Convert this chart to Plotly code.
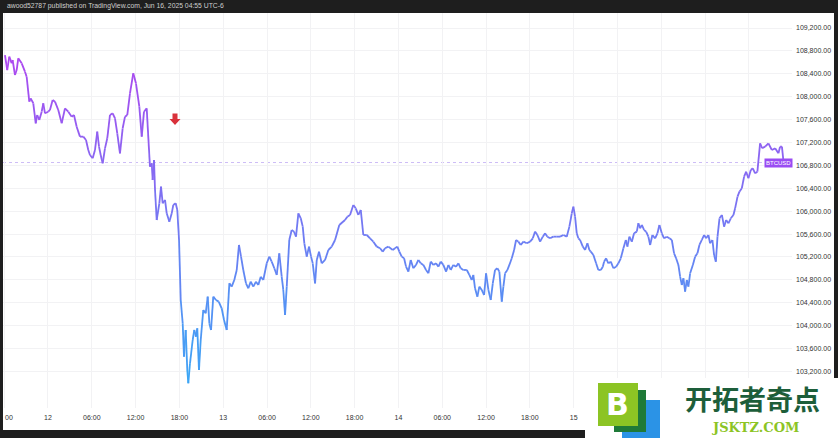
import pandas as pd
import plotly.graph_objects as go

# ---------------- data ----------------
# hours since 2025-06-12 00:00 (UTC-6) and BTCUSD price
hours = [-5.89, -5.58, -5.30, -4.97, -4.84, -4.52, -4.29, -4.07, -3.60, -3.15, -2.92, -2.56, -2.37, -2.01,
         -1.68, -1.47, -1.19, -0.86, -0.64, -0.41, 0.04, 0.27, 0.64, 0.96, 1.41, 1.88, 2.33, 2.78, 3.25,
         3.56, 3.93, 4.38, 4.84, 5.21, 5.52, 5.75, 6.12, 6.44, 6.75, 6.99, 7.22, 7.49, 7.81, 8.12, 8.49,
         8.86, 9.18, 9.49, 9.86, 10.23, 10.55, 10.86, 11.23, 11.68, 12.05, 12.51, 12.84, 13.15, 13.52,
         13.84, 13.97, 14.21, 14.34, 14.52, 14.66, 14.89, 15.25, 15.48, 15.71, 16.03, 16.26, 16.62, 16.95,
         17.16, 17.49, 17.71, 17.95, 18.18, 18.45, 18.63, 18.86, 19.08, 19.22, 19.45, 19.82, 20.04, 20.27,
         20.45, 20.68, 20.92, 21.27, 21.60, 21.88, 22.10, 22.33, 22.64, 23.01, 23.38, 23.79, 24.11, 24.48,
         24.84, 25.16, 25.52, 25.85, 26.16, 26.44, 26.75, 27.12, 27.44, 27.77, 28.12, 28.49, 28.81, 29.14,
         29.49, 29.96, 30.32, 30.64, 31.00, 31.33, 31.68, 32.01, 32.23, 32.47, 32.70, 33.05, 33.38, 33.70,
         33.97, 34.29, 34.62, 34.89, 35.11, 35.44, 35.75, 36.03, 36.26, 36.58, 36.81, 37.12, 37.49, 37.95,
         38.40, 38.86, 39.32, 39.90, 40.68, 41.00, 41.37, 41.82, 42.15, 42.51, 42.84, 43.19, 43.66, 44.11,
         44.56, 45.03, 45.48, 45.85, 46.16, 46.62, 47.22, 47.53, 47.85, 48.12, 48.45, 48.77, 49.04, 49.36,
         49.68, 50.04, 50.41, 50.73, 51.05, 51.41, 51.78, 52.10, 52.42, 52.78, 53.15, 53.47, 53.79, 54.15,
         54.52, 54.84, 55.16, 55.52, 55.89, 56.21, 56.53, 56.89, 57.36, 57.71, 58.04, 58.26, 58.49, 58.81,
         59.08, 59.41, 59.73, 60.00, 60.32, 60.64, 60.92, 61.23, 61.55, 61.82, 62.15, 62.37, 62.60, 62.92,
         63.19, 63.52, 63.84, 64.11, 64.42, 64.75, 65.11, 65.58, 66.03, 66.40, 66.71, 67.03, 67.40, 67.77,
         68.08, 68.40, 68.77, 69.21, 69.68, 70.14, 70.59, 71.05, 71.41, 71.74, 71.96, 72.19, 72.42, 72.64,
         72.88, 73.25, 73.56, 73.88, 74.15, 74.34, 74.70, 75.07, 75.38, 75.71, 75.99, 76.16, 76.44, 76.75,
         77.08, 77.44, 77.81, 78.12, 78.45, 78.81, 79.14, 79.36, 79.63, 79.96, 80.27, 80.64, 80.86, 81.10,
         81.33, 81.64, 81.92, 82.23, 82.47, 82.78, 83.15, 83.47, 83.74, 84.07, 84.38, 84.75, 85.11, 85.44,
         85.75, 86.03, 86.34, 86.58, 86.81, 87.03, 87.26, 87.49, 87.71, 87.95, 88.32, 88.63, 88.95, 89.22,
         89.55, 89.86, 90.14, 90.45, 90.68, 91.00, 91.23, 91.47, 91.70, 91.97, 92.30, 92.60, 92.88, 93.19,
         93.52, 93.88, 94.11, 94.44, 94.70, 95.03, 95.34, 95.62, 95.93, 96.26, 96.53, 96.85, 97.16, 97.53,
         97.81, 98.22, 98.67, 99.14, 99.59, 100.04, 100.27, 100.52, 100.75]

prices = [108728, 108466, 108700, 108583, 108640, 108379, 108466, 108670, 108583, 108437, 108349, 107913,
          107972, 107885, 107535, 107680, 107593, 107738, 107885, 107710, 107738, 107768, 107942, 107913,
          107768, 107535, 107797, 107738, 107651, 107680, 107476, 107302, 107302, 107244, 107069, 106982,
          106924, 107069, 107389, 107127, 106982, 106837, 107098, 107273, 107680, 107710, 107623, 107361,
          107011, 107448, 107651, 107680, 108059, 108409, 108234, 107826, 107302, 107738, 107797, 107069,
          106777, 106837, 106545, 106894, 106370, 105846, 106138, 106428, 106138, 106196, 105963, 105817,
          105963, 106108, 106138, 106021, 105497, 104449, 104042, 103459, 103925, 103226, 102994, 103343,
          103750, 103925, 103808, 103954, 103226, 103750, 104274, 104216, 104507, 104042, 103925, 104507,
          104449, 104420, 104304, 104100, 103925, 104740, 104682, 104798, 104973, 105410, 105206, 104973,
          104740, 104653, 104769, 104682, 104769, 104711, 104856, 104798, 105090, 105206, 105118, 105003,
          104886, 105264, 104856, 104624, 104187, 104682, 105497, 105672, 105643, 105555, 105963, 105876,
          105730, 105439, 105206, 105381, 105206, 105090, 104740, 105148, 105293, 105090, 105148, 105322,
          105381, 105497, 105759, 105846, 105904, 105934, 106108, 106050, 105934, 106021, 105584, 105584,
          105526, 105468, 105381, 105352, 105293, 105352, 105381, 105322, 105352, 105381, 105293, 105206,
          105177, 105031, 104944, 105148, 105003, 105061, 105148, 105090, 105061, 104973, 104915, 105118,
          105061, 105090, 105031, 105118, 105061, 104944, 105061, 104973, 105061, 105031, 105090, 105003,
          104973, 104973, 104886, 104798, 104886, 104653, 104507, 104682, 104624, 104536, 104915, 104624,
          104449, 104740, 104973, 105003, 104944, 104420, 104682, 104915, 104973, 105061, 105177, 105322,
          105497, 105468, 105410, 105468, 105439, 105468, 105526, 105643, 105584, 105468, 105555, 105613,
          105555, 105526, 105555, 105555, 105555, 105584, 105555, 105730, 105963, 106079, 105904, 105613,
          105526, 105497, 105381, 105322, 105439, 105322, 105293, 105235, 105090, 104973, 104973, 105031,
          105118, 105177, 105090, 105118, 105003, 105031, 105090, 105177, 105352, 105497, 105381, 105555,
          105468, 105613, 105643, 105789, 105701, 105759, 105672, 105643, 105555, 105410, 105584, 105526,
          105613, 105759, 105613, 105526, 105555, 105526, 105497, 105264, 105177, 105061, 104856, 104711,
          104828, 104594, 104798, 104682, 104915, 105061, 105206, 105264, 105410, 105497, 105584, 105526,
          105584, 105439, 105497, 105235, 105118, 105555, 105876, 105934, 105730, 105846, 105789, 105876,
          105934, 106050, 106254, 106341, 106400, 106603, 106690, 106574, 106720, 106749, 106662, 106690,
          107186, 107100, 107127, 107186, 107069, 107098, 107011, 107127, 107127, 106850]

tick_hours = [-6, 0, 6, 12, 18, 24, 30, 36, 42, 48, 54, 60, 66, 72, 78, 84, 90, 96]
# labels past "15" are hidden behind the watermark in the reference
tick_labels = ["18:00", "12", "06:00", "12:00", "18:00", "13", "06:00", "12:00", "18:00",
               "14", "06:00", "12:00", "18:00", "15", "", "", "", ""]
price_ticks = [103200, 103600, 104000, 104400, 104800, 105200, 105600, 106000, 106400,
               106800, 107200, 107600, 108000, 108400, 108800, 109200]
last_price = 106850
symbol = "BTCUSD"
header = "awood52787 published on TradingView.com, Jun 16, 2025 04:55 UTC-6"

# ---------------- build ----------------
base = pd.Timestamp("2025-06-12 00:00")
times = [base + pd.Timedelta(hours=h) for h in hours]
tick_vals = [base + pd.Timedelta(hours=h) for h in tick_hours]

LOW_C = (58, 168, 245)
HIGH_C = (176, 70, 240)
P_LO, P_HI = 103000, 108800
NB = 48


def bin_of(p):
    t = (p - P_LO) / (P_HI - P_LO)
    t = min(max(t, 0.0), 1.0)
    return min(int(t * NB), NB - 1)


def bin_color(b):
    t = (b + 0.5) / NB
    r, g, bl = (round(LOW_C[i] + (HIGH_C[i] - LOW_C[i]) * t) for i in range(3))
    return f"rgb({r},{g},{bl})"


groups = {}
for i in range(len(prices) - 1):
    b = bin_of((prices[i] + prices[i + 1]) / 2)
    gx, gy = groups.setdefault(b, ([], []))
    gx += [times[i], times[i + 1], None]
    gy += [prices[i], prices[i + 1], None]

fig = go.Figure()
for b in sorted(groups):
    gx, gy = groups[b]
    fig.add_trace(go.Scatter(x=gx, y=gy, mode="lines", hoverinfo="skip",
                             line=dict(color=bin_color(b), width=1.8),
                             showlegend=False))

W, H = 838, 438
ML, MR, MT, MB = 3, 46, 13, 30
PW, PH = W - ML - MR, H - MT - MB


def px(x):
    return (x - ML) / PW


def py(y):
    return (H - MB - y) / PH


shapes = [
    # last price dotted line
    dict(type="line", xref="paper", x0=0, x1=1, yref="y", y0=last_price, y1=last_price,
         line=dict(color="#cdbcf6", width=1, dash="dot"), layer="below"),
    # red arrow
    dict(type="path", xref="paper", yref="paper",
         path=(f"M {px(172.5)} {py(113.5)} L {px(177.5)} {py(113.5)} L {px(177.5)} {py(119)} "
               f"L {px(180.5)} {py(119)} L {px(175)} {py(125)} L {px(169.5)} {py(119)} "
               f"L {px(172.5)} {py(119)} Z"),
         fillcolor="#d9313b", line=dict(width=0)),
    # black frame
    dict(type="rect", xref="paper", yref="paper", x0=px(-5), x1=px(W + 5), y0=py(13), y1=py(-5),
         fillcolor="#1e1e1e", line=dict(width=0)),
    dict(type="rect", xref="paper", yref="paper", x0=px(-5), x1=px(3), y0=py(H + 5), y1=py(-5),
         fillcolor="#1e1e1e", line=dict(width=0)),
    dict(type="rect", xref="paper", yref="paper", x0=px(834), x1=px(W + 5), y0=py(H + 5), y1=py(-5),
         fillcolor="#1e1e1e", line=dict(width=0)),
    dict(type="rect", xref="paper", yref="paper", x0=px(-5), x1=px(W + 5), y0=py(H + 5), y1=py(430),
         fillcolor="#1e1e1e", line=dict(width=0)),
    # watermark background
    dict(type="rect", xref="paper", yref="paper", x0=px(585), x1=px(W + 5), y0=py(H + 5), y1=py(378),
         fillcolor="white", line=dict(width=0)),
    # watermark logo
    dict(type="rect", xref="paper", yref="paper", x0=px(622), x1=px(660), y0=py(438), y1=py(400),
         fillcolor="#2b93e6", line=dict(width=0)),
    dict(type="rect", xref="paper", yref="paper", x0=px(614), x1=px(646), y0=py(432), y1=py(390),
         fillcolor="#1f7a38", line=dict(width=0)),
    dict(type="rect", xref="paper", yref="paper", x0=px(598), x1=px(638), y0=py(426), y1=py(383),
         fillcolor="#8cc424", line=dict(width=0)),
]

annotations = [
    dict(text=header, xref="paper", yref="paper", x=px(5), y=py(6.5), xanchor="left",
         yanchor="middle", showarrow=False, font=dict(size=6.8, color="#cfcfcf")),
    dict(text="00", xref="paper", yref="paper", x=px(3), y=py(418), xanchor="left",
         yanchor="middle", showarrow=False, font=dict(size=7, color="#333333")),
    dict(text=symbol, xref="paper", yref="y", x=px(778.5), y=last_price, xanchor="center",
         yanchor="middle", showarrow=False, bgcolor="#9a4cf3", borderpad=1,
         font=dict(size=6, color="white")),
    dict(text="<b>B</b>", xref="paper", yref="paper", x=px(617), y=py(404), xanchor="center",
         yanchor="middle", showarrow=False,
         font=dict(size=30, color="white", family="DejaVu Sans")),
    dict(text="<b>开拓者奇点</b>", xref="paper", yref="paper", x=px(752), y=py(398),
         xanchor="center", yanchor="middle", showarrow=False,
         font=dict(size=27, color="#1d5e3a", family="Noto Sans CJK SC")),
    dict(text="<b>JSKTZ.COM</b>", xref="paper", yref="paper", x=px(755), y=py(427),
         xanchor="center", yanchor="middle", showarrow=False,
         font=dict(size=13, color="#8cc424", family="DejaVu Serif")),
]

fig.update_layout(
    width=W, height=H,
    margin=dict(l=ML, r=MR, t=MT, b=MB, pad=0),
    paper_bgcolor="white", plot_bgcolor="white",
    showlegend=False,
    shapes=shapes, annotations=annotations,
    font=dict(family="Liberation Sans, Arial", color="#333333"),
    xaxis=dict(type="date",
               range=[base + pd.Timedelta(hours=-6.16), base + pd.Timedelta(hours=101.9)],
               tickvals=tick_vals, ticktext=tick_labels, showgrid=True, gridcolor="#f2f2f4",
               gridwidth=1, zeroline=False, showline=False, ticks="",
               tickfont=dict(size=7, color="#333333"), ticklabelstandoff=4),
    yaxis=dict(side="right", range=[102562, 109462], tickvals=price_ticks, tickformat=",.2f",
               showgrid=True, gridcolor="#f2f2f4", gridwidth=1, zeroline=False, showline=False,
               ticks="", tickfont=dict(size=7, color="#333333"), ticklabelstandoff=3),
)

fig.write_html("out.html", config={"displayModeBar": False, "staticPlot": True},
               post_script="document.body.style.margin='0';document.body.style.overflow='hidden';")
